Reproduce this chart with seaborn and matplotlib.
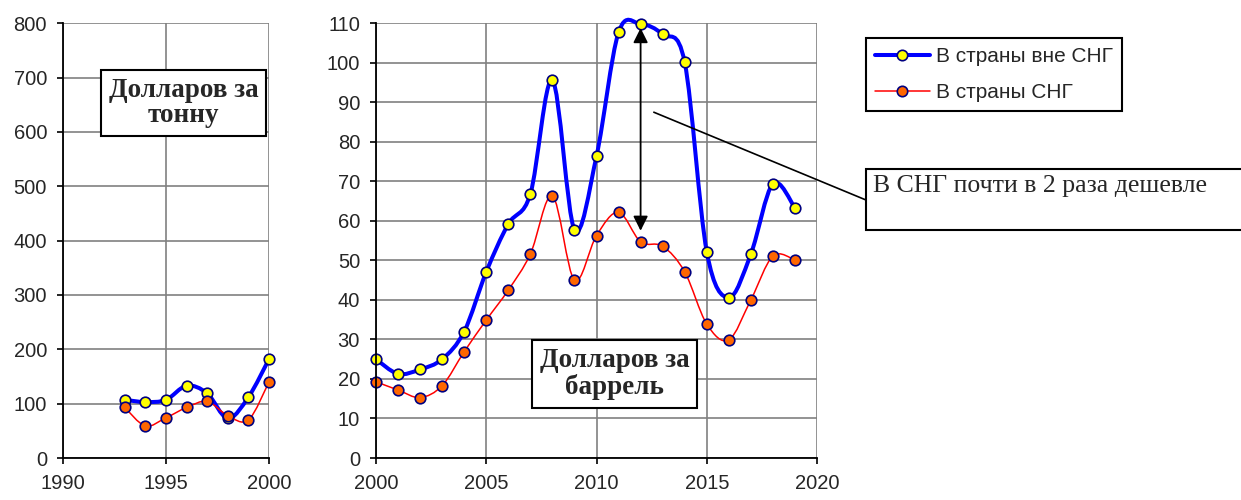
'''
    plot.py
    Oil export prices: to non-CIS vs CIS countries (per tonne, per barrel).
'''
import numpy as np
import pandas as pd
import seaborn as sns
import matplotlib.pyplot as plt
from matplotlib.path import Path
from matplotlib.patches import PathPatch, Rectangle, ConnectionPatch
from matplotlib.lines import Line2D

# dollars per tonne, 1993-2000
YEARS_T = [1993, 1994, 1995, 1996, 1997, 1998, 1999, 2000]
NONCIS_T = [107, 103, 107, 133, 119, 73, 112, 182]
CIS_T = [93, 59, 74, 93, 104, 78, 70, 140]

# dollars per barrel, 2000-2019
YEARS_B = list(range(2000, 2020))
NONCIS_B = [25.0, 21.3, 22.4, 25.0, 32.0, 47.1, 59.2, 66.8, 95.6, 57.8,
            76.4, 107.7, 109.8, 107.2, 100.1, 52.2, 40.6, 51.6, 69.4, 63.3]
CIS_B = [19.3, 17.2, 15.3, 18.3, 26.9, 34.9, 42.5, 51.6, 66.3, 45.0,
         56.3, 62.2, 54.7, 53.6, 47.1, 33.9, 29.9, 40.0, 51.1, 50.1]

LABEL_NONCIS = 'В страны вне СНГ'
LABEL_CIS = 'В страны СНГ'

BLUE, RED = '#0000FF', '#FF0000'
YELLOW, ORANGE, NAVY = '#FFFF00', '#FF6600', '#000080'
SANS = ['Liberation Sans', 'DejaVu Sans']
SERIF = ['Liberation Serif', 'DejaVu Serif']


def smooth_path(xs, ys):
    # excel-style smoothed line: bezier segments through every point
    pts = np.column_stack([xs, ys]).astype(float)
    n = len(pts)
    verts, codes = [pts[0]], [Path.MOVETO]
    for i in range(n - 1):
        p0 = pts[max(i - 1, 0)]
        p1, p2 = pts[i], pts[i + 1]
        p3 = pts[min(i + 2, n - 1)]
        verts += [p1 + (p2 - p0) / 6, p2 - (p3 - p1) / 6, p2]
        codes += [Path.CURVE4] * 3
    return Path(verts, codes)


def draw_series(ax, df, col, color, lw, face, z):
    ax.add_patch(PathPatch(smooth_path(df['year'], df[col]), fc='none',
                           ec=color, lw=lw, capstyle='round',
                           joinstyle='round', zorder=z, clip_on=False))
    sns.scatterplot(data=df, x='year', y=col, ax=ax, color=face,
                    edgecolor=NAVY, linewidth=1.2, s=58, zorder=z + 1,
                    legend=False, clip_on=False)


def style_axis(ax, xlim, xticks, ylim, yticks):
    ax.set_xlim(*xlim)
    ax.set_ylim(*ylim)
    ax.set_xticks(xticks)
    ax.set_yticks(yticks)
    ax.set_xlabel('')
    ax.set_ylabel('')
    ax.set_axisbelow(True)
    ax.grid(True, color='#808080', lw=1.2)
    for side in ['top', 'right']:
        ax.spines[side].set_visible(False)
    for side in ['left', 'bottom']:
        ax.spines[side].set_color('black')
        ax.spines[side].set_linewidth(1.3)
        ax.spines[side].set_zorder(6)
    ax.tick_params(direction='out', length=4.5, width=1.2, color='black',
                   labelsize=14.5, pad=7, left=True, bottom=True)
    for lab in ax.get_xticklabels() + ax.get_yticklabels():
        lab.set_family(SANS)


def box_text(fig, x, y, s):
    fig.text(x / 1241, 1 - y / 500, s, ha='center', va='center',
             family=SERIF, fontsize=19.5, fontweight='bold', linespacing=1.05,
             bbox=dict(boxstyle='square,pad=0.28', fc='white', ec='black',
                       lw=1.5), zorder=10)


def main():
    sns.set_style('white')
    plt.rcParams['font.family'] = SANS
    fig = plt.figure(figsize=(12.41, 5.0), dpi=100)

    df_t = pd.DataFrame({'year': YEARS_T, 'noncis': NONCIS_T, 'cis': CIS_T})
    df_b = pd.DataFrame({'year': YEARS_B, 'noncis': NONCIS_B, 'cis': CIS_B})

    ax1 = fig.add_axes([63 / 1241, 42 / 500, 206 / 1241, 434.7 / 500])
    ax2 = fig.add_axes([376 / 1241, 42 / 500, 441 / 1241, 434.7 / 500])

    for ax, df in [(ax1, df_t), (ax2, df_b)]:
        draw_series(ax, df, 'noncis', BLUE, 2.9, YELLOW, 2)
        draw_series(ax, df, 'cis', RED, 1.1, ORANGE, 4)

    style_axis(ax1, (1990, 2000), [1990, 1995, 2000], (0, 800),
               range(0, 801, 100))
    style_axis(ax2, (2000, 2020), range(2000, 2021, 5), (0, 110),
               range(0, 111, 10))

    # double arrow at 2012
    ax2.annotate('', xy=(2012, 108.8), xytext=(2012, 57.5),
                 arrowprops=dict(arrowstyle='<|-|>', color='black', lw=1.3,
                                 mutation_scale=22, shrinkA=0, shrinkB=0),
                 zorder=7)

    box_text(fig, 183.5, 103, 'Долларов за\nтонну')
    box_text(fig, 614.5, 374, 'Долларов за\nбаррель')

    # callout
    x0, x1 = 866 / 1241, 1.01
    y0, y1 = 1 - 230 / 500, 1 - 169 / 500
    fig.add_artist(Rectangle((x0, y0), x1 - x0, y1 - y0, fc='white',
                             ec='black', lw=1.5, transform=fig.transFigure))
    fig.text(873 / 1241, 1 - 175 / 500, 'В СНГ почти в 2 раза дешевле',
             ha='left', va='top', family=SERIF, fontsize=18.5)
    fig.add_artist(ConnectionPatch(xyA=(2012.6, 87.5), coordsA=ax2.transData,
                                   xyB=(x0, 0.6), coordsB=fig.transFigure,
                                   color='black', lw=1.2))

    handles = [
        Line2D([], [], color=BLUE, lw=2.9, marker='o', markersize=7.5,
               markerfacecolor=YELLOW, markeredgecolor=NAVY, mew=1.2),
        Line2D([], [], color=RED, lw=1.1, marker='o', markersize=7.5,
               markerfacecolor=ORANGE, markeredgecolor=NAVY, mew=1.2),
    ]
    leg = fig.legend(handles, [LABEL_NONCIS, LABEL_CIS], loc='upper left',
                     bbox_to_anchor=(866 / 1241, 1 - 38 / 500),
                     frameon=True, fancybox=False, edgecolor='black',
                     framealpha=1, prop={'family': SANS, 'size': 15},
                     handlelength=2.6, handletextpad=0.3, borderpad=0.45,
                     labelspacing=0.8, borderaxespad=0)
    leg.get_frame().set_linewidth(1.5)

    plt.savefig('out.png', dpi=100)


if __name__ == '__main__':
    main()
